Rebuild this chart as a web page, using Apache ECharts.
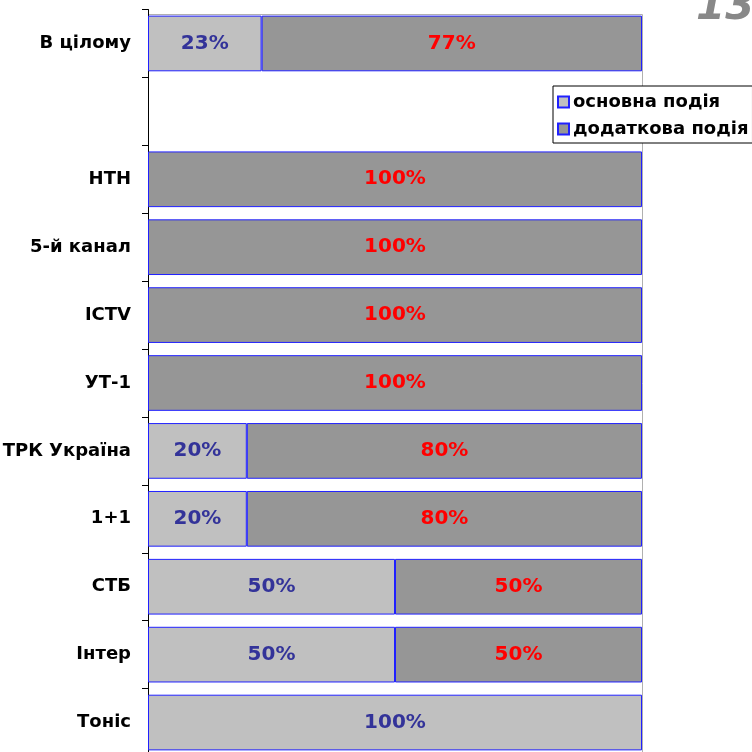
<!DOCTYPE html>
<html><head><meta charset="utf-8">
<script src="https://cdn.jsdelivr.net/npm/echarts@6/dist/echarts.min.js"></script>
<style>html,body{margin:0;padding:0;background:#fff}#c{width:752px;height:752px}</style>
</head><body><div id="c"></div>
<script>
const categories = ['В цілому', '', 'НТН', '5-й канал', 'ICTV', 'УТ-1', 'ТРК Україна', '1+1', 'СТБ', 'Інтер', 'Тоніс'];
const osnovna = [23, null, null, null, null, null, 20, 20, 50, 50, 100];
const dodatkova = [77, null, 100, 100, 100, 100, 80, 80, 50, 50, null];
const seriesNames = ['основна подія', 'додаткова подія'];

const chart = echarts.init(document.getElementById('c'));
const font = 'DejaVu Sans';
chart.setOption({
  animation: false,
  textStyle: {fontFamily: font},
  grid: {left: 148, right: 110, top: 9.5, height: 747, outerBoundsMode: 'none', containLabel: false, show: false},
  legend: {
    orient: 'vertical', left: 553, top: 86, padding: [7, 4, 5, 4],
    itemWidth: 11, itemHeight: 11, itemGap: 9,
    borderColor: '#000', borderWidth: 1, backgroundColor: '#fff', borderRadius: 0,
    textStyle: {fontFamily: font, fontWeight: 'bold', fontSize: 18, color: '#000', padding: [0, 0, 0, -1]},
    data: seriesNames.map(n => ({name: n, icon: 'rect'}))
  },
  xAxis: {type: 'value', min: 0, max: 100, show: false},
  yAxis: {
    type: 'category', data: categories, inverse: true,
    axisLine: {show: true, lineStyle: {color: '#000', width: 1}},
    axisTick: {show: true, length: 6, lineStyle: {color: '#000', width: 1}},
    axisLabel: {fontFamily: font, fontWeight: 'bold', fontSize: 18, color: '#000', margin: 17}
  },
  series: [
    {name: seriesNames[0], type: 'bar', stack: 's', data: osnovna, barCategoryGap: '18%',
     itemStyle: {color: '#c0c0c0', borderColor: '#2020ff', borderWidth: 1},
     label: {show: true, position: 'inside', formatter: p => p.value + '%', fontFamily: font, fontWeight: 'bold', fontSize: 20, color: '#333399'}},
    {name: seriesNames[1], type: 'bar', stack: 's', data: dodatkova, barCategoryGap: '18%',
     itemStyle: {color: '#969696', borderColor: '#2020ff', borderWidth: 1},
     label: {show: true, position: 'inside', formatter: p => p.value + '%', fontFamily: font, fontWeight: 'bold', fontSize: 20, color: '#ff0000'}}
  ],
  graphic: [
    {type: 'line', z: -1, shape: {x1: 148, y1: 14.5, x2: 642.5, y2: 14.5}, style: {stroke: '#b0b0b0', lineWidth: 1}},
    {type: 'line', z: -1, shape: {x1: 642.5, y1: 14.5, x2: 642.5, y2: 752}, style: {stroke: '#b0b0b0', lineWidth: 1}},
    {type: 'text', left: 696, top: -13, style: {text: '13', font: 'italic bold 42px "DejaVu Sans"', fill: '#888'}}
  ]
});
</script></body></html>
